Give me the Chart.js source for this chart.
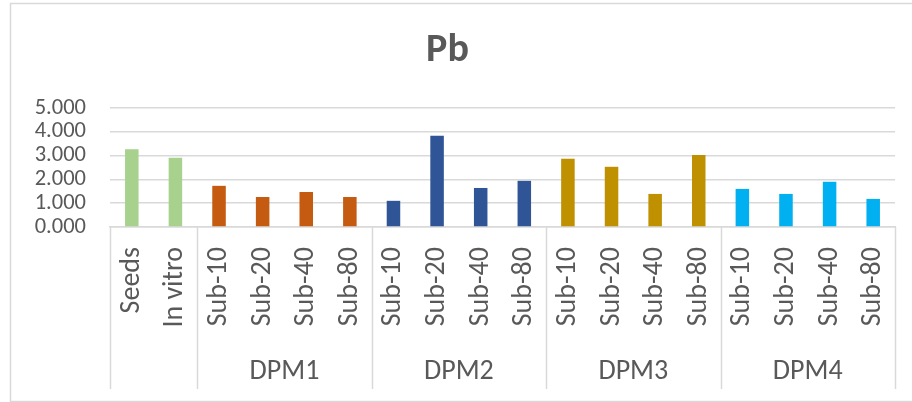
<!DOCTYPE html>
<html>
<head>
<meta charset="utf-8">
<script src="https://cdn.jsdelivr.net/npm/chart.js@4"></script>
<style>
    html, body { margin: 0; padding: 0; background: #fff; }
    #wrap { position: relative; width: 912px; height: 402px; }
</style>
</head>
<body>
<div id="wrap"><canvas id="graficoPb"></canvas></div>
<script>
const categorias = [
    'Seeds', 'In vitro',
    'Sub-10', 'Sub-20', 'Sub-40', 'Sub-80',
    'Sub-10', 'Sub-20', 'Sub-40', 'Sub-80',
    'Sub-10', 'Sub-20', 'Sub-40', 'Sub-80',
    'Sub-10', 'Sub-20', 'Sub-40', 'Sub-80'
];
const grupos = ['', 'DPM1', 'DPM2', 'DPM3', 'DPM4'];
const tamanhoGrupos = [2, 4, 4, 4, 4];
const valoresPb = [
    3.27, 2.91,
    1.73, 1.26, 1.47, 1.26,
    1.10, 3.83, 1.64, 1.94,
    2.87, 2.53, 1.39, 3.03,
    1.60, 1.39, 1.90, 1.18
];
const coresGrupos = ['#A9D18E', '#C55A11', '#2F5597', '#BF9000', '#00B0F0'];
const ticksY = [0, 1, 2, 3, 4, 5];

const fonte = "Calibri, Carlito, 'Open Sans', sans-serif";
const cinzaTexto = '#595959';
const cinzaLinha = '#D9D9D9';

// uma cor por barra, repetida dentro de cada grupo
const coresBarras = [];
tamanhoGrupos.forEach((n, g) => {
    for (let i = 0; i < n; i++) coresBarras.push(coresGrupos[g]);
});

// moldura, divisórias e nomes dos grupos abaixo do eixo x
const eixoGrupos = {
    id: 'eixoGrupos',
    beforeDraw(chart) {
        const ctx = chart.ctx;
        ctx.save();
        ctx.strokeStyle = cinzaLinha;
        ctx.lineWidth = 1.5;
        ctx.strokeRect(10.5, 3.5, 920, 398);
        ctx.restore();
    },
    afterDraw(chart) {
        const { ctx, chartArea } = chart;
        const x = chart.scales.x;
        const n = categorias.length;
        const limite = (i) => {
            if (i === 0) return chartArea.left;
            if (i === n) return chartArea.right;
            return (x.getPixelForValue(i - 1) + x.getPixelForValue(i)) / 2;
        };
        const topo = chartArea.bottom;
        const fundo = 389;

        ctx.save();
        ctx.strokeStyle = cinzaLinha;
        ctx.lineWidth = 1.5;
        let inicio = 0;
        const limites = [0];
        tamanhoGrupos.forEach((t) => { inicio += t; limites.push(inicio); });
        limites.forEach((i) => {
            const px = Math.round(limite(i)) + 0.5;
            ctx.beginPath();
            ctx.moveTo(px, topo);
            ctx.lineTo(px, fundo);
            ctx.stroke();
        });

        ctx.fillStyle = cinzaTexto;
        ctx.font = '28px ' + fonte;
        ctx.textAlign = 'center';
        ctx.textBaseline = 'middle';
        grupos.forEach((nome, g) => {
            if (!nome) return;
            const cx = (limite(limites[g]) + limite(limites[g + 1])) / 2;
            ctx.fillText(nome, cx, 372);
        });
        ctx.restore();
    }
};

const ctx = document.getElementById('graficoPb').getContext('2d');
const graficoPb = new Chart(ctx, {
    type: 'bar',

    data: {
        labels: categorias,
        datasets: [{
            label: 'Pb',
            data: valoresPb,
            backgroundColor: coresBarras,
            borderWidth: 0,
            categoryPercentage: 1,
            barPercentage: 0.31
        }]
    },

    options: {
        responsive: true,
        maintainAspectRatio: false,
        animation: false,
        layout: { padding: { left: 0, right: 17, top: 0, bottom: 0 } },
        plugins: {
            legend: { display: false },
            tooltip: { enabled: false },
            title: {
                display: true,
                text: 'Pb',
                color: cinzaTexto,
                font: { family: fonte, size: 40, weight: 'bold' },
                padding: { top: 27, bottom: 33 }
            }
        },
        scales: {
            y: {
                min: 0,
                max: 5,
                afterBuildTicks(axis) {
                    axis.ticks = ticksY.map(v => ({ value: v }));
                },
                afterFit(axis) { axis.width = 110; },
                ticks: {
                    autoSkip: false,
                    padding: 24,
                    color: cinzaTexto,
                    font: { family: fonte, size: 22.5 },
                    callback: (v) => Number(v).toFixed(3)
                },
                grid: { color: cinzaLinha, lineWidth: 1.5, drawTicks: false },
                border: { display: false }
            },
            x: {
                afterFit(axis) {
                    axis.height = 175;
                    axis.paddingLeft = 0;
                    axis.paddingRight = 0;
                },
                ticks: {
                    autoSkip: false,
                    minRotation: 90,
                    maxRotation: 90,
                    padding: 20,
                    color: cinzaTexto,
                    font: { family: fonte, size: 28 }
                },
                grid: { display: false, drawTicks: false },
                border: { display: true, color: cinzaLinha, width: 1.5 }
            }
        }
    },
    plugins: [eixoGrupos]
});
</script>
</body>
</html>
